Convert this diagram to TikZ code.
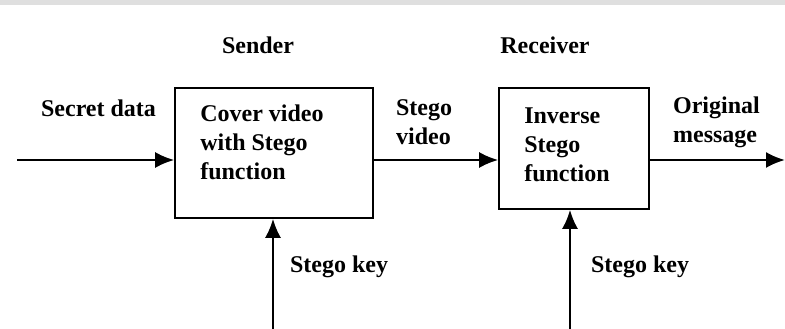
\documentclass[tikz,border=0pt]{standalone}
\usepackage{fontspec}
\setmainfont{Liberation Serif}
\usepackage{tikz}
\usetikzlibrary{arrows.meta}
\usetikzlibrary{calc}
\usetikzlibrary{positioning}
\tikzset{block/.style = {draw, line width=1.6pt, rectangle, inner sep=0pt},
    lbl/.style = {font=\fontsize{24}{29}\selectfont\bfseries, align=left, inner sep=0pt},
    input/.style = {coordinate},
    output/.style = {coordinate}}

\begin{document}
\begin{tikzpicture}[x=1pt, y=1pt, >={Latex[length=19pt,width=16pt]}, line width=2.2pt]
    % page size and the grey strip on top
    \useasboundingbox (0,0) rectangle (785,329);
    \fill[gray!25] (0,324) rectangle (785,329);

    % We start by placing the blocks
    \node [block, minimum width=198pt, minimum height=130pt] (sender) at (274,176) {};
    \node [block, minimum width=150pt, minimum height=121pt] (receiver) at (574,180.5) {};
    \node [lbl, anchor=north west] (sendertext) at ($(sender.north west)+(25,-17)$)
        {Cover video\\with Stego\\function};
    \node [lbl, anchor=north west] (receivertext) at ($(receiver.north west)+(25,-19)$)
        {Inverse\\Stego\\function};

    % inputs and outputs
    \node [input] (secret) at (17,169) {};
    \node [output] (message) at (785,169) {};
    \node [input] (key1) at (273,0) {};
    \node [input] (key2) at (570,0) {};

    % the texts
    \node [lbl] (sendername) at (258,284) {Sender};
    \node [lbl] (receivername) at (545,284) {Receiver};
    \node [lbl, anchor=west] (secretlbl) at (40,221) {Secret data};
    \node [lbl, anchor=west] (videolbl) at (395,207) {Stego\\video};
    \node [lbl, anchor=west] (messagelbl) at (672,207) {Original\\message};
    \node [lbl, anchor=west] (keylbl1) at (289,62) {Stego key};
    \node [lbl, anchor=west] (keylbl2) at (590,62) {Stego key};

    % Once the nodes are placed, connecting them is easy.
    \draw [->] (secret) -- (secret -| sender.west);
    \draw [->] (secret -| sender.east) -- (secret -| receiver.west);
    \draw [->] (secret -| receiver.east) -- (message);
    \draw [->] (key1) -- (key1 |- sender.south);
    \draw [->] (key2) -- (key2 |- receiver.south);
\end{tikzpicture}
\end{document}
